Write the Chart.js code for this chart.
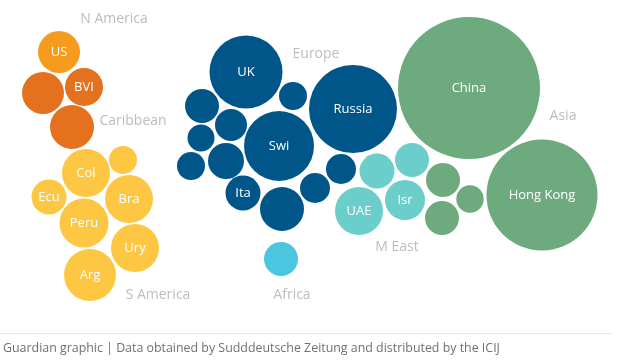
<!DOCTYPE html>
<html>
<head>
<meta charset="utf-8">
<script src="https://cdn.jsdelivr.net/npm/chart.js@4/dist/chart.umd.min.js"></script>
<style>
  html, body { margin: 0; padding: 0; background: #fff; }
  #wrap { width: 617px; height: 363px; position: relative; }
</style>
</head>
<body>
<div id="wrap"><canvas id="bubbles" width="617" height="363"></canvas></div>
<script>
// Bubble values: [x, y, r, label] in the chart's own unit grid
const nAmerica = [[59, 52, 21, "US"]];
const caribbean = [[84, 87, 19, "BVI"], [43, 93, 21, ""], [72, 127, 22, ""]];
const sAmerica = [
    [86, 173, 24, "Col"], [123, 160, 14, ""], [49, 197, 17.5, "Ecu"],
    [129, 199, 24, "Bra"], [84, 223, 24.5, "Peru"], [135, 248, 24, "Ury"],
    [90, 275, 26, "Arg"]
];
const europe = [
    [246, 72, 36.5, "UK"], [293, 96, 14, ""], [353, 109, 44, "Russia"],
    [202, 106, 17, ""], [231, 125, 16, ""], [201, 138, 13.5, ""],
    [279, 146, 35, "Swi"], [226, 161, 18, ""], [191, 166, 14, ""],
    [243, 193, 17.5, "Ita"], [315, 188, 15, ""], [341, 169, 15, ""],
    [282, 209, 22, ""]
];
const africa = [[281, 259, 17, ""]];
const mEast = [[377, 171, 17.5, ""], [412, 160, 17, ""], [359, 211, 24, "UAE"], [405, 200, 20, "Isr"]];
const asia = [
    [469, 88, 71, "China"], [542, 195, 55.5, "Hong Kong"],
    [443, 180, 17, ""], [470, 199, 13.7, ""], [442, 218, 17, ""]
];

const regionNames = ["N America", "Caribbean", "S America", "Europe", "Africa", "M East", "Asia"];
const regionColors = ["#F59B1E", "#E3711E", "#FDC743", "#005689", "#4BC6DF", "#6BCECB", "#6DAA7D"];
const regionLabelX = [114, 133, 158, 316, 292, 397, 563];
const regionLabelY = [19, 121, 295, 54, 295, 247, 116];

const groups = [nAmerica, caribbean, sAmerica, europe, africa, mEast, asia];
const credit = "Guardian graphic | Data obtained by Sudddeutsche Zeitung and distributed by the ICIJ";

const FONT = "'Open Sans', 'Noto Sans', sans-serif";

// Draws bubble names, region names and the credit line
const labelPlugin = {
    id: "labels",
    afterDatasetsDraw(chart) {
        const ctx = chart.ctx;
        const xs = chart.scales.x;
        const ys = chart.scales.y;
        ctx.save();
        ctx.textAlign = "center";
        ctx.textBaseline = "middle";

        // names inside bubbles
        ctx.fillStyle = "#ffffff";
        ctx.font = "13px " + FONT;
        chart.data.datasets.forEach((ds, i) => {
            const meta = chart.getDatasetMeta(i);
            meta.data.forEach((pt, j) => {
                const name = ds.data[j].label;
                if (name) ctx.fillText(name, pt.x, pt.y);
            });
        });

        // region names
        ctx.fillStyle = "#bdbdbd";
        ctx.font = "14px " + FONT;
        regionNames.forEach((name, i) => {
            ctx.fillText(name, xs.getPixelForValue(regionLabelX[i]), ys.getPixelForValue(regionLabelY[i]));
        });

        // footer rule and credit
        ctx.strokeStyle = "#e6e6e6";
        ctx.lineWidth = 1;
        ctx.beginPath();
        ctx.moveTo(0, 333.5);
        ctx.lineTo(612, 333.5);
        ctx.stroke();

        ctx.textAlign = "left";
        ctx.fillStyle = "#707070";
        ctx.font = "12.4px " + FONT;
        ctx.fillText(credit, 3, 348);
        ctx.restore();
    }
};

new Chart(document.getElementById("bubbles").getContext("2d"), {
    type: "bubble",
    data: {
        datasets: groups.map((g, i) => ({
            label: regionNames[i],
            data: g.map((b) => ({ x: b[0], y: b[1], r: b[2], label: b[3] })),
            backgroundColor: regionColors[i],
            borderWidth: 0,
            hoverRadius: 0,
            clip: false,
        })),
    },
    options: {
        responsive: false,
        animation: false,
        layout: { padding: 0, autoPadding: false },
        scales: {
            x: { type: "linear", min: 0, max: 617, display: false },
            y: { type: "linear", min: 0, max: 363, reverse: true, display: false },
        },
        plugins: {
            legend: { display: false },
            tooltip: { enabled: false },
        },
    },
    plugins: [labelPlugin],
});
</script>
</body>
</html>
